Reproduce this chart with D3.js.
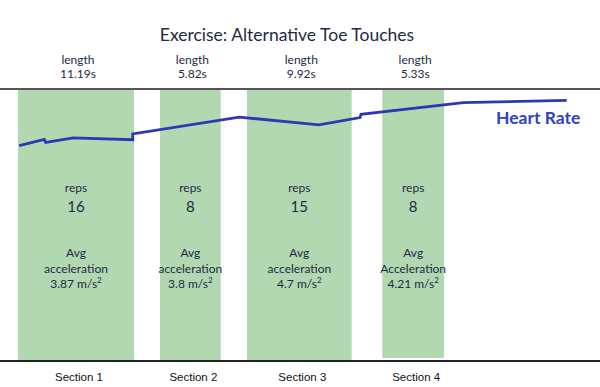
<!DOCTYPE html>
<html>
<head>
<meta charset="utf-8">
<script src="https://cdn.jsdelivr.net/npm/d3@7"></script>
<style>
	body { margin: 0; background: #fff; }
	svg { display: block; }
	text { font-family: Lato, "Noto Sans", sans-serif; fill: #1f2a44; }
</style>
</head>
<body>
<div id="chart"></div>
<script>
(function() {
	"use strict";

	// sections (seconds from start of recording)
	var sectionNames = ['Section 1', 'Section 2', 'Section 3', 'Section 4'];
	var sectionStart = [0, 13.59, 21.91, 34.86];
	var sectionEnd = [11.1, 19.4, 31.93, 40.77];
	var lengths = ['11.19s', '5.82s', '9.92s', '5.33s'];
	var reps = [16, 8, 15, 8];
	var accelLabel = ['acceleration', 'acceleration', 'acceleration', 'Acceleration'];
	var accel = ['3.87', '3.8', '4.7', '4.21'];

	// heart rate trace
	var hrTime = [0.12, 2.52, 2.65, 5.29, 10.98, 10.98, 21.18, 28.8, 32.73, 32.82, 42.61, 52.51];
	var hrBpm = [107.5, 108.9, 108.2, 109.2, 108.8, 110.1, 113.8, 112.1, 113.7, 114.4, 117.0, 117.5];

	var width = 600, height = 387;
	var top = 89, bottom = 361;

	var svg = d3.select('#chart')
		.append('svg')
		.attr('width', width)
		.attr('height', height);

	var x = d3.scaleLinear().domain([0, 10]).range([18, 122.5]);
	var y = d3.scaleLinear().domain([60, 120]).range([bottom, top]);

	var sections = sectionNames.map(function (name, i) {
		return { name: name, start: sectionStart[i], end: sectionEnd[i], length: lengths[i],
			reps: reps[i], accelLabel: accelLabel[i], accel: accel[i], last: i === 3 };
	});
	function mid(d) { return (x(d.start) + x(d.end)) / 2; }

	svg.append('text')
		.attr('x', 287)
		.attr('y', 41)
		.attr('text-anchor', 'middle')
		.style('font-size', '17.5px')
		.text('Exercise: Alternative Toe Touches');

	svg.selectAll('.bar')
		.data(sections)
		.enter()
		.append('rect')
		.classed('bar', true)
		.attr('x', function (d) { return x(d.start); })
		.attr('width', function (d) { return x(d.end) - x(d.start); })
		.attr('y', function (d) { return d.last ? top - 1 : top + 1; })
		.attr('height', function (d) { return d.last ? 270 : bottom - top - 1; })
		.attr('fill', '#b2d8b2');

	svg.append('line')
		.attr('x1', 0).attr('x2', width)
		.attr('y1', top).attr('y2', top)
		.attr('stroke', '#555').attr('stroke-width', 2);

	svg.append('line')
		.attr('x1', 0).attr('x2', width)
		.attr('y1', bottom).attr('y2', bottom)
		.attr('stroke', '#222').attr('stroke-width', 2);

	var head = svg.selectAll('.len')
		.data(sections)
		.enter()
		.append('text')
		.classed('len', true)
		.attr('text-anchor', 'middle')
		.style('font-size', '12px');
	head.append('tspan')
		.attr('x', function (d) { return mid(d) + 2; })
		.attr('y', 64)
		.text('length');
	head.append('tspan')
		.attr('x', function (d) { return mid(d) + 2; })
		.attr('y', 78)
		.text(function (d) { return d.length; });

	var inner = svg.selectAll('.info')
		.data(sections)
		.enter()
		.append('g')
		.classed('info', true)
		.attr('transform', function (d) { return 'translate(' + mid(d) + ',0)'; });

	inner.append('text').attr('text-anchor', 'middle').attr('y', 192)
		.style('font-size', '12px').text('reps');
	inner.append('text').attr('text-anchor', 'middle').attr('y', 212)
		.style('font-size', '15px').text(function (d) { return d.reps; });
	inner.append('text').attr('text-anchor', 'middle').attr('y', 257)
		.style('font-size', '12px').text('Avg');
	inner.append('text').attr('text-anchor', 'middle').attr('y', 273)
		.style('font-size', '12px').text(function (d) { return d.accelLabel; });
	var acc = inner.append('text').attr('text-anchor', 'middle').attr('y', 288)
		.style('font-size', '12px');
	acc.append('tspan').text(function (d) { return d.accel + ' m/s'; });
	acc.append('tspan').attr('dy', -5).style('font-size', '8px').text('2');

	svg.selectAll('.sec')
		.data(sections)
		.enter()
		.append('text')
		.classed('sec', true)
		.attr('x', function (d) { return mid(d) + 3; })
		.attr('y', 381)
		.attr('text-anchor', 'middle')
		.style('font-family', '"Liberation Sans", Arial, sans-serif')
		.style('font-size', '11.5px')
		.style('fill', '#111')
		.text(function (d) { return d.name; });

	var hr = hrTime.map(function (t, i) { return [t, hrBpm[i]]; });
	var line = d3.line()
		.x(function (d) { return x(d[0]); })
		.y(function (d) { return y(d[1]); });

	svg.append('path')
		.datum(hr)
		.attr('d', line)
		.attr('fill', 'none')
		.attr('stroke', '#2d38b3')
		.attr('stroke-width', 2.8)
		.attr('stroke-linejoin', 'miter');

	svg.append('text')
		.attr('x', 496)
		.attr('y', 124)
		.style('font-size', '17.5px')
		.style('font-weight', 'bold')
		.style('fill', '#3340bf')
		.text('Heart Rate');
}());
</script>
</body>
</html>
